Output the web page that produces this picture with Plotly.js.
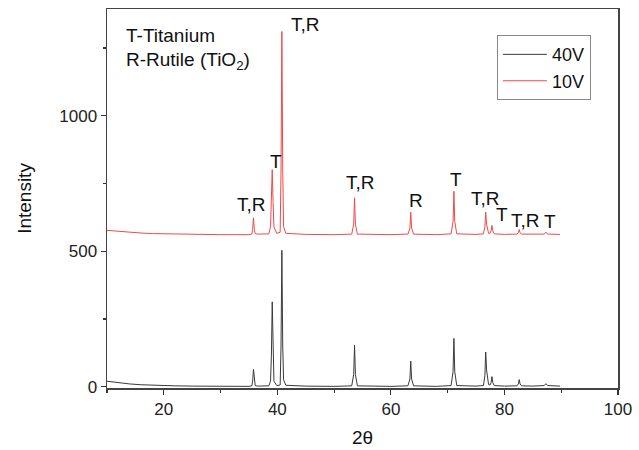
<!DOCTYPE html>
<html>
<head>
<meta charset="utf-8">
<script src="https://cdn.plot.ly/plotly-3.0.1.min.js"></script>
<style>html,body{margin:0;padding:0;background:#fff;}#chart{width:639px;height:450px;}</style>
</head>
<body>
<div id="chart"></div>
<script>
// 2-theta positions (degrees)
const twoTheta = [10, 12, 14, 16, 18, 20, 22, 25, 30, 35,
  35.5, 35.65, 35.8, 35.95, 36.1, 36.5,
  38.5, 38.8, 38.95, 39.1, 39.25, 39.4, 39.9,
  40.5, 40.65, 40.8, 40.95, 41.1, 41.5,
  45, 50,
  53.1, 53.45, 53.6, 53.75, 54.1,
  60,
  63.0, 63.35, 63.5, 63.65, 64.0,
  68,
  70.6, 70.95, 71.1, 71.25, 71.6,
  75,
  76.3, 76.55, 76.7, 76.85, 76.95, 77.2,
  77.45, 77.65, 77.8, 77.95, 78.2,
  80,
  82.2, 82.45, 82.6, 82.75, 83.0,
  85,
  87.0, 87.3, 87.6, 89.8];

// 40V intensities
const int40V = [20, 14, 10, 7, 5, 4, 3, 2, 1, 1,
  3, 20, 64, 20, 4, 2,
  3, 20, 110, 313, 110, 20, 4,
  6, 150, 503, 150, 25, 5,
  2, 1,
  3, 45, 153, 45, 3,
  1,
  3, 28, 94, 28, 3,
  1,
  4, 55, 178, 55, 4,
  2,
  4, 40, 128, 62, 50, 8,
  6, 15, 37, 15, 4,
  2,
  3, 10, 26, 10, 3,
  2,
  4, 11, 4, 2];

// 10V intensities
const int10V = [577, 573, 570, 567, 565, 564, 563, 562, 561, 561,
  563, 580, 623, 580, 565, 563,
  564, 590, 680, 801, 680, 590, 566,
  570, 800, 1311, 800, 590, 566,
  562, 561,
  563, 600, 697, 600, 563,
  561,
  563, 585, 644, 585, 563,
  561,
  564, 610, 721, 610, 564,
  562,
  564, 590, 644, 600, 585, 566,
  566, 575, 595, 575, 564,
  562,
  563, 568, 580, 568, 563,
  562,
  563, 570, 563, 562];

const seriesNames = ["40V", "10V"];

// peak labels
const labelText = ["T,R", "T", "T,R", "T,R", "R", "T", "T,R", "T", "T,R", "T"];
const labelX = [35.4, 39.8, 45.0, 54.6, 64.4, 71.4, 76.7, 79.6, 83.7, 88.1];
const labelY = [672, 832, 1336, 754, 687, 764, 694, 635, 614, 611];

const legendLines = ["T-Titanium", "R-Rutile (TiO<sub>2</sub>)"];

const font = "Liberation Sans, Arial, sans-serif";

const traces = [
  {x: twoTheta, y: int40V, name: seriesNames[0], type: "scatter", mode: "lines",
   line: {color: "#3a3a3a", width: 1}},
  {x: twoTheta, y: int10V, name: seriesNames[1], type: "scatter", mode: "lines",
   line: {color: "#ee4a4a", width: 1}}
];

const annotations = labelText.map((t, i) => ({
  x: labelX[i], y: labelY[i], xref: "x", yref: "y", text: t, showarrow: false,
  font: {family: font, size: 19, color: "#111"}, xanchor: "center", yanchor: "middle"
}));
annotations.push({x: 0.034, y: (388.5 - 36) / 379.5, xref: "paper", yref: "paper", text: legendLines[0], showarrow: false,
  font: {family: font, size: 19, color: "#111"}, xanchor: "left", yanchor: "middle"});
annotations.push({x: 0.034, y: (388.5 - 61) / 379.5, xref: "paper", yref: "paper", text: legendLines[1], showarrow: false,
  font: {family: font, size: 19, color: "#111"}, xanchor: "left", yanchor: "middle"});

const layout = {
  width: 639, height: 450,
  margin: {l: 107, r: 21, t: 9, b: 62},
  paper_bgcolor: "#fff", plot_bgcolor: "#fff",
  font: {family: font, size: 17, color: "#222"},
  showlegend: true,
  legend: {x: 0.763, y: 0.931, xanchor: "left", yanchor: "top",
    bordercolor: "#888", borderwidth: 1, bgcolor: "rgba(0,0,0,0)",
    itemwidth: 44,
    font: {family: font, size: 18, color: "#111"}, tracegroupgap: 0},
  xaxis: {range: [10, 100], tick0: 0, dtick: 20, ticks: "outside", ticklen: 5, tickwidth: 1.2,
    tickcolor: "#333", showline: true, linecolor: "#444", linewidth: 1.5, mirror: true,
    showgrid: false, zeroline: false,
    minor: {dtick: 10, tick0: 0, ticks: "outside", ticklen: 3, tickcolor: "#333", showgrid: false},
    tickfont: {family: font, size: 17, color: "#222"},
    title: {text: "2θ", font: {family: font, size: 19, color: "#111"}, standoff: 13}},
  yaxis: {range: [-5, 1394], tickvals: [0, 500, 1000], ticks: "outside", ticklen: 5, tickwidth: 1.2,
    tickcolor: "#333", showline: true, linecolor: "#444", linewidth: 1.5, mirror: true,
    showgrid: false, zeroline: false,
    minor: {tickvals: [250, 750, 1250], ticks: "outside", ticklen: 3, tickcolor: "#333", showgrid: false},
    tickfont: {family: font, size: 17, color: "#222"},
    title: {text: "Intensity", font: {family: font, size: 19, color: "#111"}, standoff: 22}},
  annotations: annotations
};

Plotly.newPlot("chart", traces, layout, {displayModeBar: false, staticPlot: true});
</script>
</body>
</html>
